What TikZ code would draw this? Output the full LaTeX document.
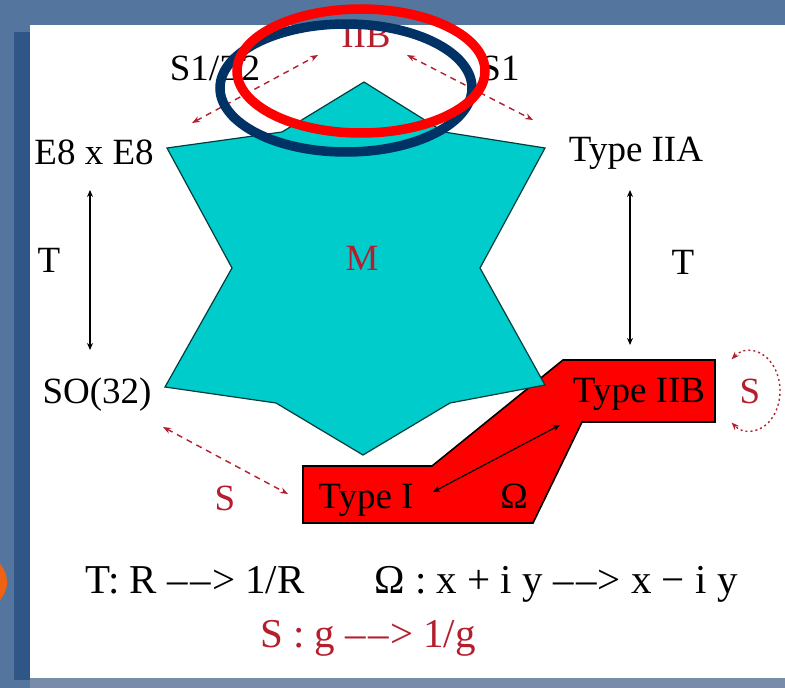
\documentclass[tikz,border=0pt]{standalone}
\usepackage{fontspec}
\setmainfont{Liberation Serif}
\usetikzlibrary{arrows.meta,calc}
\definecolor{slideBlue}{RGB}{84,117,158}
\definecolor{slideBar}{RGB}{48,86,136}
\definecolor{slideFoot}{RGB}{118,140,168}
\definecolor{mCyan}{RGB}{0,204,204}
\definecolor{dualRed}{RGB}{180,30,45}
\definecolor{ovRed}{RGB}{255,0,0}
\definecolor{ovBlue}{RGB}{0,50,102}
\definecolor{ovOrange}{RGB}{238,98,22}
\tikzset{mpanel/.style={
  x=1pt, y=-1pt,
  lab/.style={font=\fontsize{37}{40}\selectfont, inner sep=0pt, anchor=base},
  dlab/.style={lab, text=dualRed},
  leg/.style={lab, font=\fontsize{41}{44}\selectfont},
  tmap/.style={{Stealth[length=7pt,width=6pt]}-{Stealth[length=7pt,width=6pt]}, line width=1.3pt},
  smap/.style={{Stealth[length=8pt,width=6pt]}-{Stealth[length=8pt,width=6pt]}, line width=1.4pt, draw=dualRed, dash pattern=on 6pt off 5pt},
  sloop/.style={smap, dash pattern=on 2pt off 3pt},
  theory/.style={line width=1.6pt, line join=miter},
  ring/.style={line width=9.5pt},
}}
\newcommand{\maparrow}{\textendash\kern2.5pt\textendash\kern1pt>}

\begin{document}
\begin{tikzpicture}[mpanel]
\useasboundingbox (0,0) rectangle (785,688);
% =====================================================================
%  slide background
% =====================================================================
\fill[slideBlue] (0,0) rectangle (785,688);
\fill[slideBar] (14,32) rectangle (30,680);
\fill[slideFoot] (30,678) rectangle (785,688);
\fill[white] (30,25) rectangle (785,678);
\fill[ovOrange] (-14,582) ellipse [x radius=21, y radius=24];

% =====================================================================
%  the two regions: M (star) and the Type I / Type IIB band
% =====================================================================
\filldraw[theory, fill=red, draw=black]
  (303,466) -- (432,466) -- (563,360) -- (715,360) -- (715,422)
  -- (582,422) -- (533,523) -- (303,523) -- cycle;
\filldraw[fill=mCyan, draw=black!70!mCyan, line width=1.2pt]
  (364,82) -- (444,132) -- (545,148) -- (480,268) -- (545,385)
  -- (450,403) -- (363,455) -- (276,403) -- (165,387) -- (232,268)
  -- (167,148) -- (282,132) -- cycle;

% labels
\node[lab] (e8)   at (94,164)  {E8 x E8};
\node[lab] (iia)  at (636,161) {Type  IIA};
\node[lab] (so32) at (97,403)  {SO(32)};
\node[lab] (iib)  at (639,402) {Type IIB};
\node[lab] (ti)   at (366,508) {Type I};
\node[lab] (om)   at (514,508) {Ω};
\node[lab] (tl)   at (49,272)  {T};
\node[lab] (tr)   at (683,274) {T};
\node[lab] (s1z2) at (215,80)  {S1/Z2};
\node[lab] (s1)   at (500,80)  {S1};
\node[dlab] (top) at (366,47)  {IIB};
\node[dlab] (m)   at (362,270) {M};
\node[dlab] (sl)  at (225,510) {S};
\node[dlab] (sr)  at (750,403) {S};

% arrow ends
\coordinate (e8t)  at (90,190);
\coordinate (sot)  at (90,350);
\coordinate (iiat) at (630,190);
\coordinate (iibt) at (630,345);
\coordinate (e8a)  at (192,123);
\coordinate (topl) at (318,55);
\coordinate (topr) at (407,55);
\coordinate (iiaa) at (533,120);
\coordinate (soa)  at (163,427);
\coordinate (tia)  at (288,494);
\coordinate (tio)  at (433,492);
\coordinate (iibo) at (560,425);

% ---- T dualities
\draw[tmap] (e8t) -- (sot);
\draw[tmap] (iiat) -- (iibt);
% ---- S1 and S1/Z2 compactifications, S duality
\draw[smap] (e8a) -- (topl);
\draw[smap] (topr) -- (iiaa);
\draw[smap] (soa) -- (tia);
\draw[sloop] (sr) ++(-128:30 and 40) arc[start angle=-128, end angle=128, x radius=30, y radius=40];
% ---- orientation reversal
\draw[tmap, line width=1.2pt] (tio) -- (iibo);

% legend
\node[leg] (lt) at (195,593) {T: R \maparrow{} 1/R};
\node[leg] (lo) at (556,593) {Ω : x + i y \maparrow{} x − i y};
\node[leg, text=dualRed] (ls) at (368,647) {S : g \maparrow{} 1/g};

% overlay marks
\draw[ovBlue, ring] (346,88) ellipse [x radius=126, y radius=64];
\draw[ovRed, ring] (361,71) ellipse [x radius=124, y radius=62];
\end{tikzpicture}
\end{document}
